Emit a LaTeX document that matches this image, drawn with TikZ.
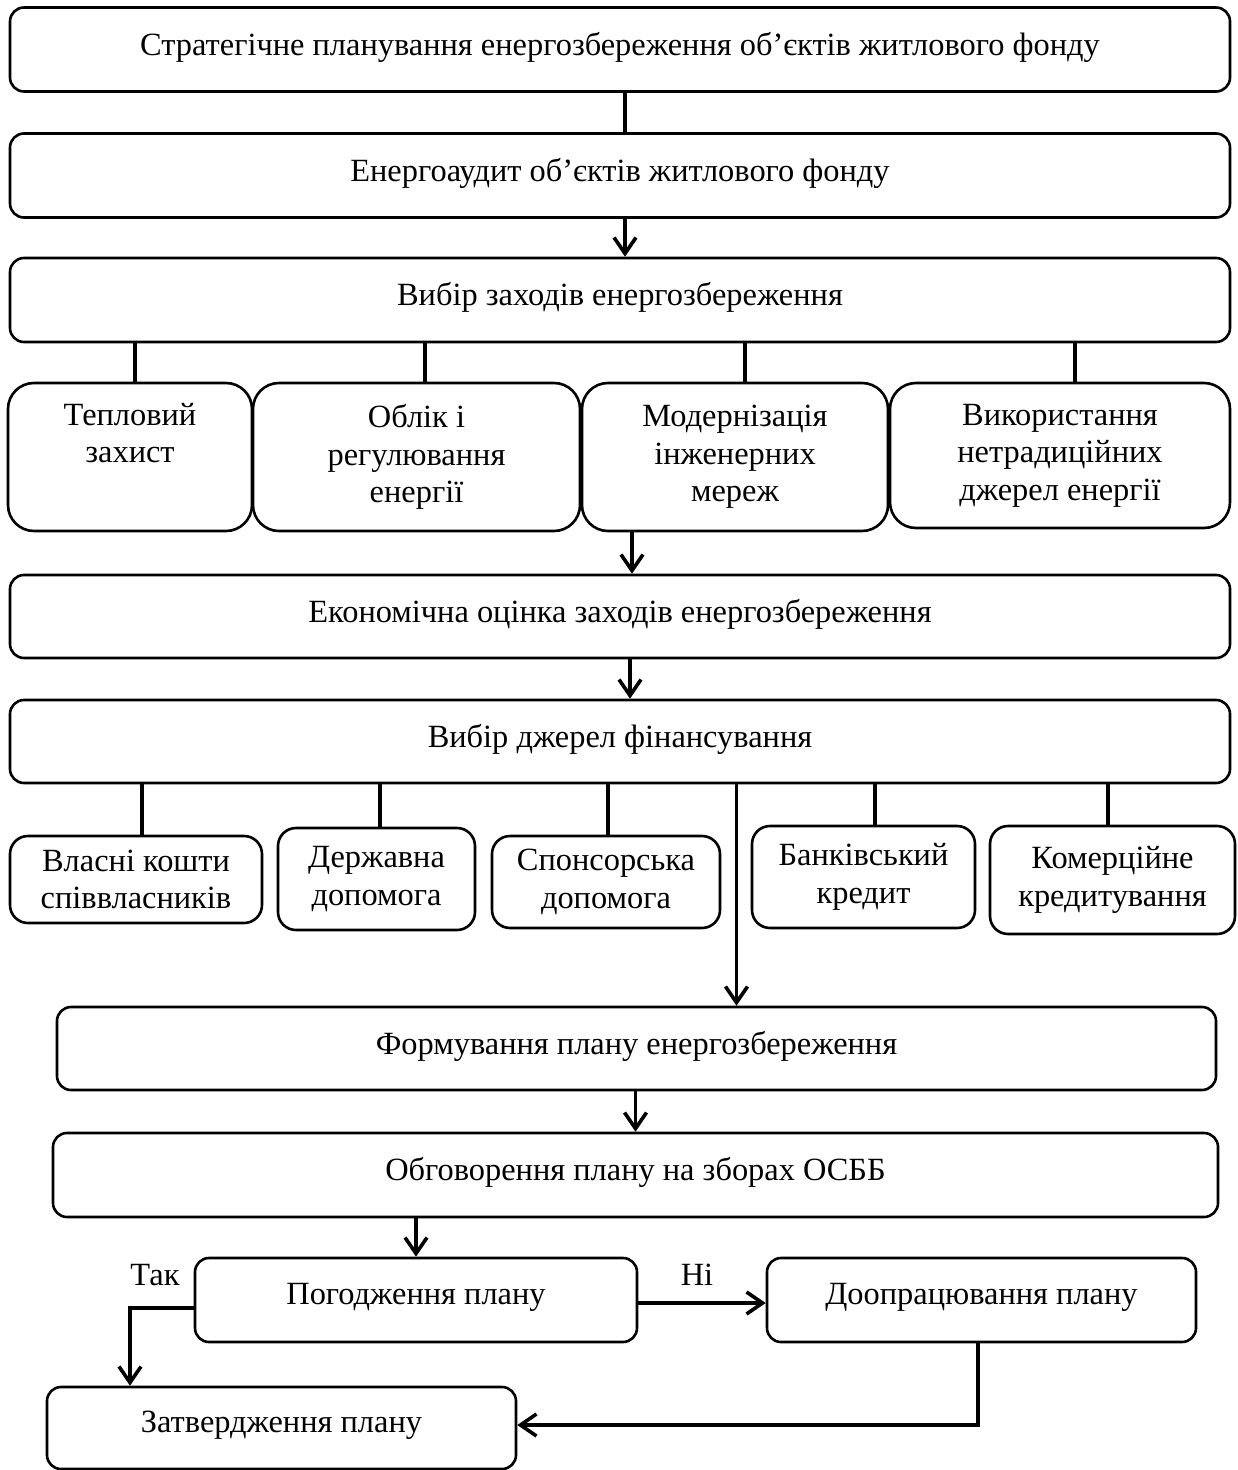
\documentclass[tikz,border=0pt]{standalone}
\usepackage{fontspec}
\setmainfont{Liberation Serif}
\usetikzlibrary{positioning,calc,arrows.meta}

\begin{document}
\begin{tikzpicture}[x=0.5pt,y=-0.5pt,
    font=\fontsize{16.2}{18.7}\selectfont,
    blk/.style={draw,line width=1.3pt,rounded corners=7pt,minimum width=610pt,minimum height=42pt,text depth=6pt,inner sep=0pt},
    mbox/.style={draw,line width=1.3pt,rounded corners=13pt,align=center,minimum height=74pt,inner sep=0pt},
    fbox/.style={draw,line width=1.3pt,rounded corners=9pt,align=center,inner sep=0pt},
    ln/.style={line width=1.8pt},
    arr/.style={line width=1.8pt,-{Straight Barb[length=8pt,width=11pt]}}]
    \useasboundingbox[fill=white] (0,0) rectangle (1237,1470);

    % Planning and audit
    \node[blk] (b1) at (620,49.5) {Стратегічне планування енергозбереження об’єктів житлового фонду};
    \node[blk] (b2) at (620,175.5) {Енергоаудит об’єктів житлового фонду};
    \node[blk] (b3) at (620,300) {Вибір заходів енергозбереження};
    \draw[ln] ([xshift=2.5pt]b1.south) -- ([xshift=2.5pt]b2.north);
    \draw[arr] ([xshift=2.5pt]b2.south) -- ([xshift=2.5pt]b3.north);

    % Measures
    \node[mbox,minimum width=122pt] (r4a) at (130,457) {Тепловий\\захист\\\strut};
    \node[mbox,minimum width=163.5pt] (r4b) at (416.5,457) {Облік і\\регулювання\\енергії};
    \node[mbox,minimum width=153pt] (r4c) at (735,457) {Модернізація\\інженерних\\мереж};
    \node[mbox,minimum width=170pt,minimum height=72.5pt] (r4d) at (1060,455.5) {Використання\\нетрадиційних\\джерел енергії};
    \draw[ln] ([xshift=2.5pt]b3.south -| r4a.north) -- ([xshift=2.5pt]r4a.north);
    \draw[ln] ([xshift=4.25pt]b3.south -| r4b.north) -- ([xshift=4.25pt]r4b.north);
    \draw[ln] ([xshift=5pt]b3.south -| r4c.north) -- ([xshift=5pt]r4c.north);
    \draw[ln] ([xshift=7.5pt]b3.south -| r4d.north) -- ([xshift=7.5pt]r4d.north);

    % Evaluation and funding
    \node[blk,minimum height=41.5pt] (b5) at (620,616.5) {Економічна оцінка заходів енергозбереження};
    \node[blk,minimum height=41.5pt] (b6) at (620,741.5) {Вибір джерел фінансування};
    \draw[arr] ([xshift=6pt]r4c.south -| b5.north) -- ([xshift=6pt]b5.north);
    \draw[arr] ([xshift=5pt]b5.south) -- ([xshift=5pt]b6.north);

    % Funding sources
    \node[fbox,minimum width=126pt,minimum height=43.5pt] (f1) at (136,879.5) {Власні кошти\\співвласників};
    \node[fbox,minimum width=98.5pt,minimum height=51pt] (f2) at (376.5,879) {Державна\\допомога};
    \node[fbox,minimum width=114pt,minimum height=46pt] (f3) at (606,882) {Спонсорська\\допомога};
    \node[fbox,minimum width=111.5pt,minimum height=51pt] (f4) at (863.5,877) {Банківський\\кредит};
    \node[fbox,minimum width=122.5pt,minimum height=54pt] (f5) at (1112.5,880) {Комерційне\\кредитування};
    \draw[ln] ([xshift=3pt]b6.south -| f1.north) -- ([xshift=3pt]f1.north);
    \draw[ln] ([xshift=1.75pt]b6.south -| f2.north) -- ([xshift=1.75pt]f2.north);
    \draw[ln] ([xshift=1pt]b6.south -| f3.north) -- ([xshift=1pt]f3.north);
    \draw[ln] ([xshift=5.75pt]b6.south -| f4.north) -- ([xshift=5.75pt]f4.north);
    \draw[ln] ([xshift=-2.25pt]b6.south -| f5.north) -- ([xshift=-2.25pt]f5.north);

    % Plan
    \node[blk,minimum width=579.5pt,minimum height=41.5pt] (b8) at (636.5,1048.5) {Формування плану енергозбереження};
    \node[blk,minimum width=582.5pt] (b9) at (635.5,1175) {Обговорення плану на зборах ОСББ};
    \draw[arr] ([xshift=50pt]b6.south -| b8.north) -- ([xshift=50pt]b8.north);
    \draw[arr] (b8.south -| b9.north) -- (b9.north);

    % Decision
    \node[blk,minimum width=221pt] (b10) at (416,1300) {Погодження плану};
    \node[blk,minimum width=214.5pt] (b12) at (981.5,1300) {Доопрацювання плану};
    \node[blk,minimum width=234.5pt,minimum height=41pt] (b11) at (281.5,1428) {Затвердження плану};
    \draw[arr] (b9.south -| b10.north) -- (b10.north);
    \draw[arr] ([yshift=-4pt]b10.west) -| ([xshift=-75.75pt]b11.north);
    \draw[arr] ([yshift=-1.5pt]b10.east) -- ([yshift=-1.5pt]b12.west);
    \draw[arr] ([xshift=-1.75pt]b12.south) |- ([yshift=1.5pt]b11.east);
    \node (tak) at (155,1275) {Так};
    \node (ni) at (697,1275) {Ні};
\end{tikzpicture}
\end{document}
